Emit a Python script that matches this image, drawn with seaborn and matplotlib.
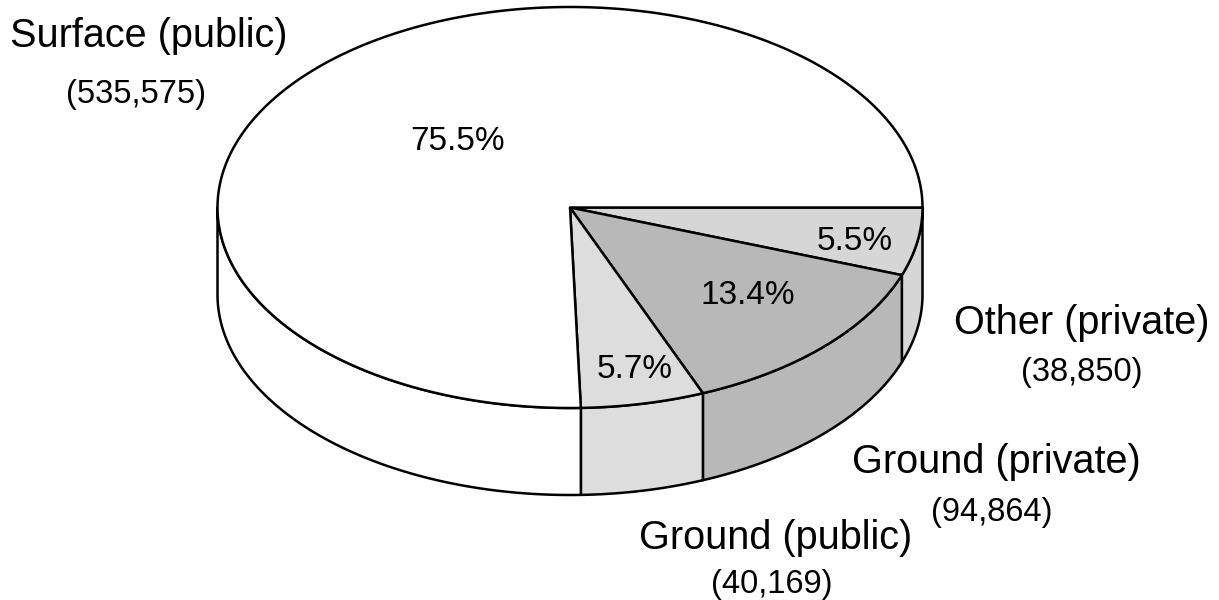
import numpy as np
import matplotlib
matplotlib.use("Agg")
import matplotlib.pyplot as plt
import seaborn as sns
from matplotlib.patches import Polygon

# water withdrawals, clockwise from the right-hand edge
sources = ["Other (private)", "Ground (private)", "Ground (public)", "Surface (public)"]
volumes = [38850, 94864, 40169, 535575]
shades = ["#d6d6d6", "#b8b8b8", "#dddddd", "#ffffff"]

sns.set_style("white")
plt.rcParams["font.family"] = ["Liberation Sans", "DejaVu Sans"]
plt.rcParams["text.color"] = "black"

# pie geometry in pixels
cx, cy = 570, 207.5
rx, ry = 352.5, 200.5
depth = 87

fig = plt.figure(figsize=(12.19, 6.0), dpi=100)
ax = fig.add_axes([0, 0, 1, 1])
ax.set_xlim(0, 1219)
ax.set_ylim(600, 0)
ax.axis("off")

fracs = np.array(volumes) / np.sum(volumes)
edges = np.concatenate([[0], np.cumsum(fracs)]) * 2 * np.pi


def arc(t0, t1, n=200, dy=0):
    t = np.linspace(t0, t1, n)
    return np.column_stack([cx + rx * np.cos(t), cy + ry * np.sin(t) + dy])


# side walls (front half only: 0..pi)
for i in range(len(volumes)):
    t0, t1 = max(edges[i], 0), min(edges[i + 1], np.pi)
    if t1 <= t0:
        continue
    top = arc(t0, t1)
    bot = arc(t0, t1, dy=depth)[::-1]
    ax.add_patch(Polygon(np.vstack([top, bot]), closed=True, facecolor=shades[i],
                         edgecolor="black", linewidth=1.8, joinstyle="round"))

# top faces
for i in range(len(volumes)):
    pts = np.vstack([[cx, cy], arc(edges[i], edges[i + 1], n=400)])
    ax.add_patch(Polygon(pts, closed=True, facecolor=shades[i],
                         edgecolor="black", linewidth=1.8, joinstyle="round"))

# percentage labels on top face
pct_pos = [(855, 242), (748, 296), (635, 370), (458, 142)]
for f, (x, y) in zip(fracs, pct_pos):
    ax.text(x, y, f"{f * 100:.1f}%", fontsize=24, ha="center", va="center")

# category labels with volumes
name_pos = [(1082, 323), (996, 462), (776, 538), (149, 36)]
vol_pos = [(1082, 372), (992, 512), (772, 584), (136, 95)]
for name, v, (nx, ny), (vx, vy) in zip(sources, volumes, name_pos, vol_pos):
    ax.text(nx, ny, name, fontsize=28.5, ha="center", va="center")
    ax.text(vx, vy, f"({v:,})", fontsize=23.5, ha="center", va="center")

fig.savefig("out.png", dpi=100)
